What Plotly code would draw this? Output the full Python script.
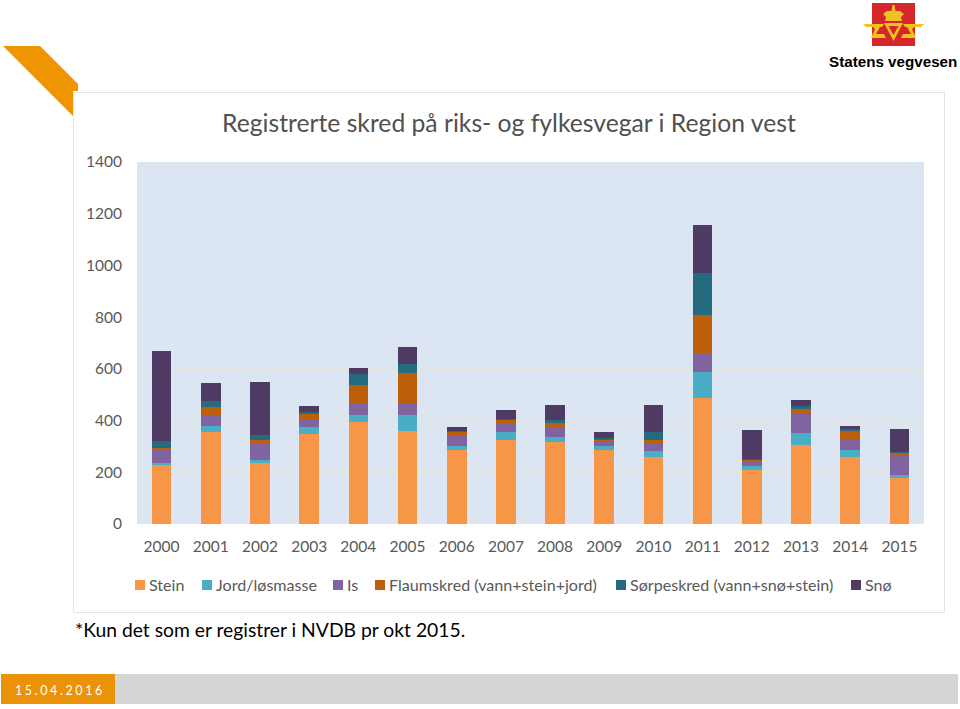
import plotly.graph_objects as go

years = [str(y) for y in range(2000, 2016)]
stein = [227, 356, 235, 349, 394, 358, 286, 324, 316, 285, 259, 489, 209, 307, 260, 177]
jord = [8, 23, 13, 26, 26, 62, 17, 30, 22, 18, 23, 99, 14, 45, 26, 13]
is_ = [52, 39, 67, 27, 49, 44, 39, 36, 36, 14, 32, 75, 18, 73, 39, 76]
flaum = [8, 33, 10, 26, 67, 119, 15, 13, 15, 10, 9, 147, 8, 21, 35, 10]
sorpe = [26, 24, 18, 4, 44, 36, 3, 3, 14, 4, 32, 162, 1, 12, 6, 4]
sno = [350, 71, 206, 24, 22, 66, 15, 36, 57, 26, 107, 186, 112, 22, 13, 88]
series_names = ["Stein", "Jord/løsmasse", "Is", "Flaumskred (vann+stein+jord)",
                "Sørpeskred (vann+snø+stein)", "Snø"]
series_colors = ["#f79646", "#4bacc6", "#8064a2", "#bd5e08", "#256b80", "#4f3a63"]
y_ticks = [0, 200, 400, 600, 800, 1000, 1200, 1400]
title_text = "Registrerte skred på riks- og fylkesvegar i Region vest"
footnote = "*Kun det som er registrer i NVDB pr okt 2015."
date_text = "15.04.2016"
logo_text = "Statens vegvesen"

W, H = 960, 709
FONT = "Lato"
GREY = "#595959"
ORANGE = "#ee9500"


def px(x):
    return x / W


def py(y):
    return 1 - y / H


fig = go.Figure()
for name, vals, col in zip(series_names, [stein, jord, is_, flaum, sorpe, sno], series_colors):
    fig.add_bar(name=name, x=years, y=vals, marker=dict(color=col, line=dict(width=0)), showlegend=False)

shapes = []


def rect(x0, y0, x1, y1, fill, line=None, layer="below"):
    shapes.append(dict(type="rect", xref="paper", yref="paper", x0=px(x0), x1=px(x1), y0=py(y0), y1=py(y1),
                       fillcolor=fill, line=dict(width=1 if line else 0, color=line or fill), layer=layer))


def poly(points, fill, layer="below"):
    d = "M" + " L".join(f"{px(x):.5f},{py(y):.5f}" for x, y in points) + " Z"
    shapes.append(dict(type="path", xref="paper", yref="paper", path=d, fillcolor=fill,
                       line=dict(width=0), layer=layer))


# slide furniture
rect(73.5, 92.5, 944.5, 612.5, "#ffffff", "#e4e4e4")
rect(137, 162, 924, 524, "#dce6f2")
poly([(3, 46), (40, 46), (78, 84), (78, 91), (73, 91), (73, 116)], ORANGE)
rect(1, 674, 115, 704, "#ea9208")
rect(115, 674, 958, 704, "#d6d6d6")

# logo
GOLD = "#eec21f"
RED = "#d5262b"
rect(872, 3, 915, 46, RED)
poly([(885, 21), (902, 21), (901, 17), (904, 14), (900, 11), (895.5, 11), (894.5, 5), (892.5, 5),
      (891.5, 11), (887, 11), (883, 14), (886, 17)], GOLD)
poly([(884, 23), (903, 23), (893.5, 41)], GOLD)
poly([(888.5, 26), (898.5, 26), (893.5, 35)], RED)
poly([(863, 24), (884, 24), (882, 27), (880, 27), (876, 34), (884, 34), (886, 38), (871, 38),
      (875, 29), (873, 27), (866, 27)], GOLD)
poly([(924, 24), (903, 24), (905, 27), (907, 27), (911, 34), (903, 34), (901, 38), (916, 38),
      (912, 29), (914, 27), (921, 27)], GOLD)

annotations = [
    dict(text=title_text, x=px(222), y=py(123), xanchor="left", yanchor="middle",
         font=dict(family=FONT, size=24.7, color="#505050")),
    dict(text=footnote, x=px(75), y=py(629), xanchor="left", yanchor="middle",
         font=dict(family=FONT, size=19.3, color="#000000")),
    dict(text=date_text, x=px(28), y=py(690), xanchor="left", yanchor="middle",
         font=dict(family=FONT, size=12.5, color="#ffffff")),
    dict(text="<b>" + logo_text + "</b>", x=px(829), y=py(62), xanchor="left", yanchor="middle",
         font=dict(family="Liberation Sans", size=15.2, color="#000000")),
]

# legend
swatch_x = [135, 202, 333, 375, 616, 851]
for name, col, sx in zip(series_names, series_colors, swatch_x):
    rect(sx, 580, sx + 10, 590, col, layer="above")
    annotations.append(dict(text=name, x=px(sx + 14), y=py(584.5), xanchor="left", yanchor="middle",
                            font=dict(family=FONT, size=16.1, color=GREY)))
for a in annotations:
    a.update(xref="paper", yref="paper", showarrow=False, xshift=0, borderpad=0, borderwidth=0)

fig.update_layout(
    width=W, height=H, margin=dict(l=0, r=0, t=0, b=0), autosize=False,
    barmode="stack", bargap=0.6, showlegend=False,
    paper_bgcolor="#ffffff", plot_bgcolor="#dce6f2",
    font=dict(family=FONT, color=GREY),
    shapes=shapes, annotations=annotations,
    xaxis=dict(domain=[px(137), px(924)], anchor="y", type="category", showgrid=False, zeroline=False,
               automargin=False,
               ticks="", ticklabelstandoff=11, tickfont=dict(family=FONT, size=15.5, color=GREY), showline=False),
    yaxis=dict(domain=[py(524), py(162)], anchor="x", range=[0, 1400], tickvals=y_ticks, ticks="",
               automargin=False,
               showgrid=True, gridcolor="#e4e3de", gridwidth=1, zeroline=False, showline=False,
               ticklabelstandoff=14, tickfont=dict(family=FONT, size=15.5, color=GREY)),
)

post = """
document.documentElement.style.margin='0';document.body.style.margin='0';
document.querySelectorAll('.annotation-text').forEach(function(t){
  if(t.textContent==='15.04.2016'){t.style.letterSpacing='2.6px';}
});
"""
fig.write_html("out.html", post_script=post, config=dict(displayModeBar=False))
